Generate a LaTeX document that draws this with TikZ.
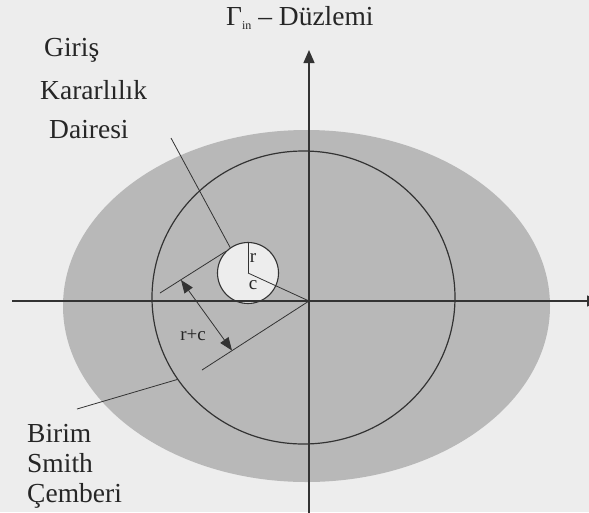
\documentclass[tikz,border=0pt]{standalone}
\usepackage{fontspec}
\setmainfont{Liberation Serif}
\usetikzlibrary{arrows.meta, shapes.geometric}

\definecolor{paper}{gray}{0.93}
\definecolor{dots}{gray}{0.72}
\definecolor{ink}{gray}{0.2}

\begin{document}
\begin{tikzpicture}[
    x=1pt, y=-1pt,
    >={Triangle[length=13pt, width=11pt]},
    axis/.style={draw=ink, line width=1.3pt, ->},
    guide/.style={draw=ink, line width=0.8pt},
    lbl/.style={font=\fontsize{27.5}{27.5}\selectfont, text=black!85, inner sep=0pt},
    small/.style={font=\fontsize{19}{19}\selectfont, text=black!85, inner sep=0pt}
  ]
  \fill[paper] (0,0) rectangle (589,512);
  \useasboundingbox (0,0) rectangle (589,512);

  % shaded region and unit Smith circle
  \fill[dots] (306.5,306) ellipse [x radius=243.5, y radius=176];
  \node[ellipse, draw=ink, line width=1.2pt, minimum width=303pt,
        minimum height=293pt, inner sep=0pt] (smith) at (303.5,297.5) {};

  % input stability circle
  \node[circle, draw=ink, fill=paper, line width=1.1pt, minimum size=61pt,
        inner sep=0pt] (stab) at (248,273) {};

  % axes
  \coordinate (O) at (309,301);
  \coordinate (xs) at (12,301);
  \coordinate (xe) at (600,301);
  \coordinate (ys) at (309,515);
  \coordinate (ye) at (309,50);
  \draw[axis] (xs) -- (xe);
  \draw[axis] (ys) -- (ye);

  % r and c
  \draw[guide] (stab.center) -- (stab.north);
  \draw[guide] (stab.center) -- (O);
  \node[small, anchor=base] (rlab) at (253,262) {r};
  \node[small, anchor=base] (clab) at (253,289) {c};

  % dimension r+c
  \coordinate (e1) at (160,293);
  \coordinate (e2) at (202,370);
  \draw[guide] (stab.136) -- (e1);
  \draw[guide] (O) -- (e2);
  \coordinate (d1) at (181,280);
  \coordinate (d2) at (232,350.5);
  \draw[guide, <->, >={Triangle[length=13pt, width=10pt]}] (d1) -- (d2);
  \node[small, anchor=base] (rc) at (193,340) {r+c};

  % leaders
  \coordinate (g) at (171,138);
  \draw[guide] (g) -- (stab.125);
  \coordinate (b) at (77,409);
  \draw[guide] (b) -- (smith.213);

  % labels
  \node[lbl, anchor=base west] (title) at (226,25)
    {Γ\raisebox{-4pt}{\fontsize{12}{12}\selectfont in} – Düzlemi};
  \foreach \t/\x/\y [count=\i] in {Giriş/44/56, Kararlılık/40/99, Dairesi/49/138}
    \node[lbl, anchor=base west] (gir\i) at (\x,\y) {\t};
  \foreach \t/\y [count=\i] in {Birim/442, Smith/472, Çemberi/502}
    \node[lbl, anchor=base west] (bir\i) at (27,\y) {\t};
\end{tikzpicture}
\end{document}
